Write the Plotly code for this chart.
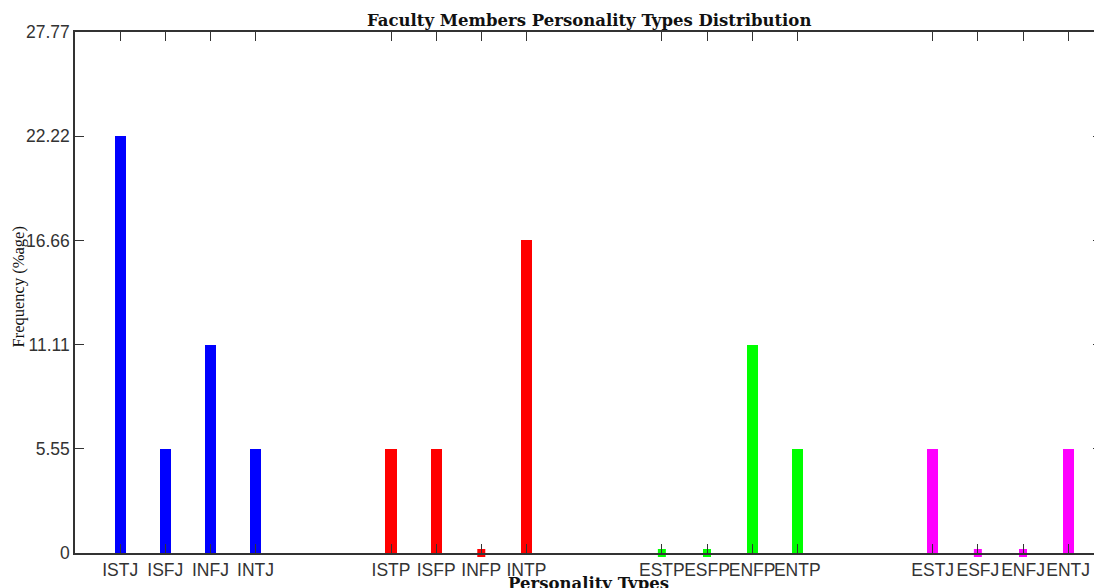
import plotly.graph_objects as go

categories = ["ISTJ", "ISFJ", "INFJ", "INTJ",
              "ISTP", "ISFP", "INFP", "INTP",
              "ESTP", "ESFP", "ENFP", "ENTP",
              "ESTJ", "ESFJ", "ENFJ", "ENTJ"]
positions = [1, 2, 3, 4, 7, 8, 9, 10, 13, 14, 15, 16, 19, 20, 21, 22]
values = [22.22, 5.55, 11.11, 5.55,
          5.55, 5.55, 0, 16.66,
          0, 0, 11.11, 5.55,
          5.55, 0, 0, 5.55]
group_colors = ["#0000FF", "#FF0000", "#00FF00", "#FF00FF"]
yticks = [0, 5.55, 11.11, 16.66, 22.22, 27.77]
ytick_text = ["0", "5.55", "11.11", "16.66", "22.22", "27.77"]

fig = go.Figure()
for g in range(4):
    xs = positions[g*4:(g+1)*4]
    ys = values[g*4:(g+1)*4]
    col = group_colors[g]
    fig.add_trace(go.Bar(x=xs, y=ys, width=0.25, marker=dict(color=col, line=dict(width=0)),
                         showlegend=False))
    zx = [x for x, y in zip(xs, ys) if y == 0]
    zy = [0 for _ in zx]
    if zx:
        fig.add_trace(go.Scatter(x=zx, y=zy, mode="markers", cliponaxis=False,
                                 marker=dict(symbol="square", size=8, color=col),
                                 showlegend=False))

axis_common = dict(showgrid=False, zeroline=False, showline=True, linecolor="#333",
                   linewidth=1.5, mirror="ticks", ticks="inside", ticklen=9,
                   tickcolor="#333", tickwidth=1, automargin=False, tickangle=0,
                   tickfont=dict(family="Liberation Sans", size=17.5, color="#333"))

fig.update_xaxes(range=[0, 22.75], tickvals=positions, ticktext=categories, **axis_common)
fig.update_yaxes(range=[0, 27.77], tickvals=yticks, ticktext=ytick_text, **axis_common)

fig.update_layout(
    width=1094, height=580,
    margin=dict(l=67, r=0, t=24, b=35),
    paper_bgcolor="white", plot_bgcolor="white",
    bargap=0,
    annotations=[
        dict(text="<b>Faculty Members Personality Types Distribution</b>", xref="paper", yref="paper",
             x=0.5, y=1, yshift=12, showarrow=False, xanchor="center", yanchor="middle",
             font=dict(family="DejaVu Serif", size=16.5, color="#111")),
        dict(text="Frequency (%age)", xref="paper", yref="paper", x=0, xshift=-57, y=0.5,
             yshift=5, textangle=-90, showarrow=False, xanchor="center", yanchor="middle",
             font=dict(family="Liberation Serif", size=16.5, color="#111")),
        dict(text="<b>Personality Types</b>", xref="paper", yref="paper", x=0.5, y=0,
             yshift=-19, showarrow=False, xanchor="center", yanchor="top",
             font=dict(family="DejaVu Serif", size=16.5, color="#111")),
    ],
)

fig.write_html("out.html")
